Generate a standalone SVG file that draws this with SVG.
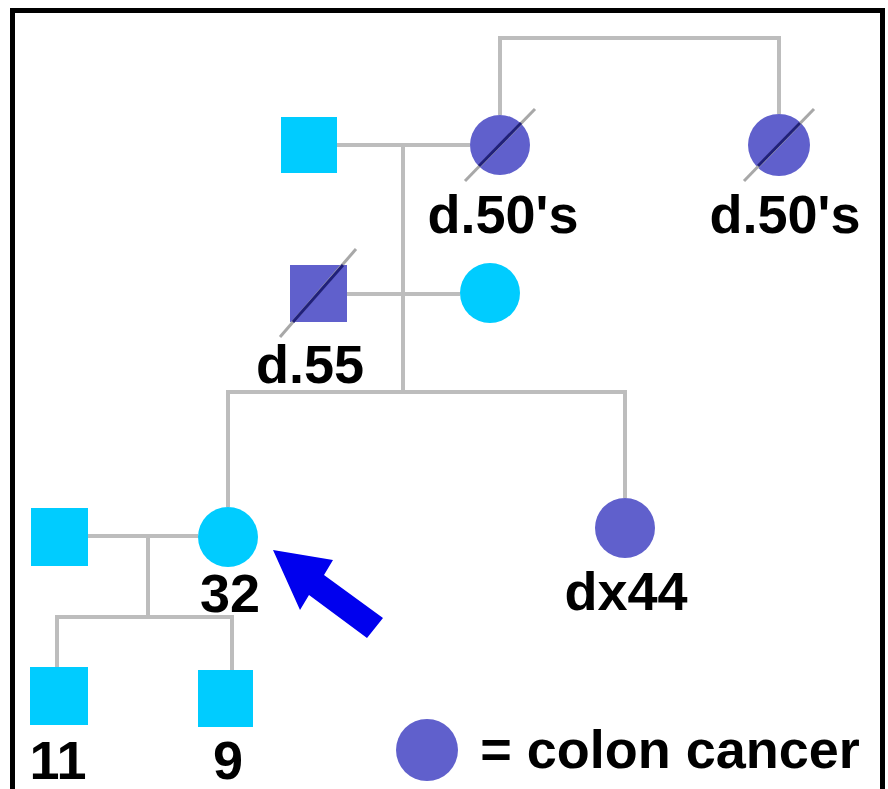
<svg xmlns="http://www.w3.org/2000/svg" width="888" height="789" viewBox="0 0 888 789">
<style>
.ln{stroke:#bdbdbd;stroke-width:4;fill:none}
.m{fill:#00ccff}
.f{fill:#00ccff}
.a{fill:#6060cc}
.sl{stroke:#a8a8a8;stroke-width:3}
.si{stroke:#20207a;stroke-width:3}
text{font-family:"Liberation Sans",Arial,sans-serif;font-weight:bold;font-size:54px;fill:#000;text-anchor:middle}
</style>
<rect x="0" y="0" width="888" height="789" fill="#fff"/>
<rect x="12.5" y="10.5" width="870" height="820" fill="none" stroke="#000" stroke-width="5"/>
<g id="connectors">
<polyline class="ln" points="500,115 500,38 779,38 779,114"/>
<line class="ln" x1="337" y1="145" x2="470" y2="145"/>
<line class="ln" x1="403" y1="145" x2="403" y2="392"/>
<line class="ln" x1="346" y1="294" x2="460" y2="294"/>
<polyline class="ln" points="228,507 228,392 625,392 625,498"/>
<line class="ln" x1="88" y1="536" x2="198" y2="536"/>
<line class="ln" x1="148" y1="536" x2="148" y2="617"/>
<polyline class="ln" points="57,667 57,617 232,617 232,670"/>
</g>
<g id="grandfather"><rect class="m" x="281" y="117" width="56" height="56"/></g>
<g id="grandmother">
<circle class="a" cx="500" cy="145" r="30"/>
<line class="sl" x1="465" y1="181" x2="535" y2="109"/>
<line class="si" x1="479" y1="166" x2="521" y2="123"/>
<text x="503" y="233">d.50's</text>
</g>
<g id="great-aunt">
<circle class="a" cx="779" cy="145" r="31"/>
<line class="sl" x1="744" y1="181" x2="814" y2="109"/>
<line class="si" x1="758" y1="166" x2="800" y2="123"/>
<text x="785" y="233">d.50's</text>
</g>
<g id="father">
<rect class="a" x="290" y="265" width="57" height="57"/>
<line class="sl" x1="280" y1="337" x2="356" y2="249"/>
<line class="si" x1="293" y1="322" x2="343" y2="265"/>
<text x="310" y="383">d.55</text>
</g>
<g id="mother"><circle class="f" cx="490" cy="293" r="30"/></g>
<g id="proband">
<circle class="f" cx="228" cy="537" r="30"/>
<text x="230" y="612">32</text>
</g>
<g id="aunt">
<circle class="a" cx="625" cy="528" r="30"/>
<text x="626" y="610">dx44</text>
</g>
<g id="husband"><rect class="m" x="31" y="508" width="57" height="58"/></g>
<g id="son11">
<rect class="m" x="30" y="667" width="58" height="58"/>
<text x="58" y="779">11</text>
</g>
<g id="son9">
<rect class="m" x="198" y="670" width="55" height="57"/>
<text x="228" y="779">9</text>
</g>
<g id="arrow">
<polygon fill="#0000ee" points="273,550 333,560 324,575 383,618 367,638 309,595 300,610"/>
</g>
<g id="legend">
<circle class="a" cx="427" cy="750" r="31"/>
<text x="670" y="768" font-size="53">= colon cancer</text>
</g>
</svg>
